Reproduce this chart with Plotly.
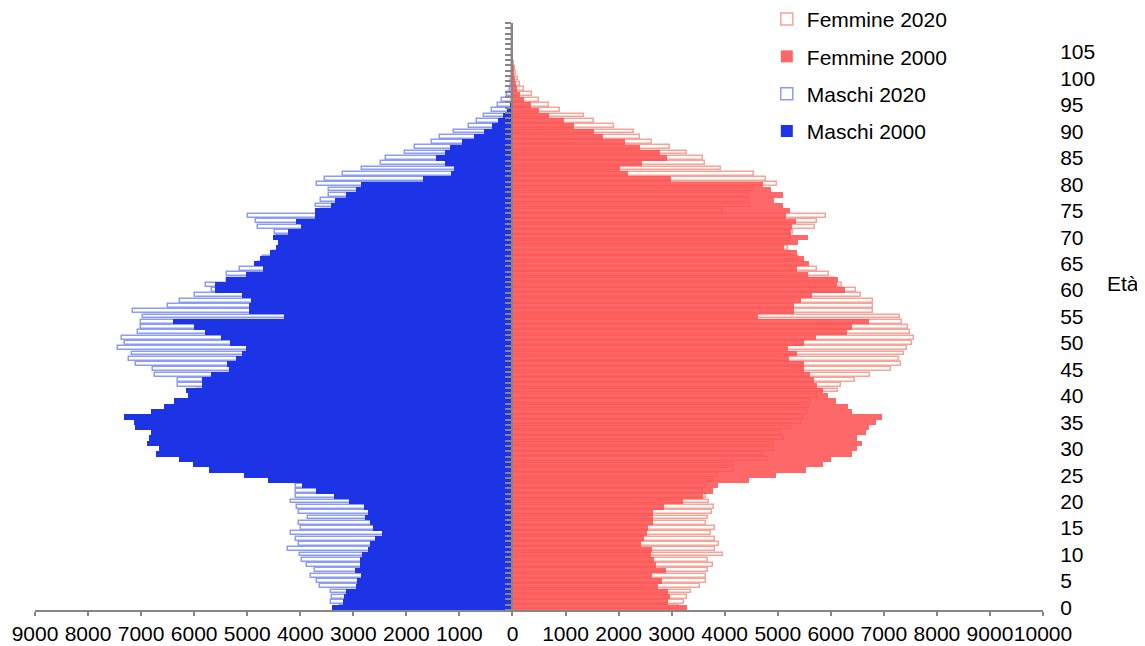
import plotly.graph_objects as go

ages = list(range(0, 111))

maschi_2000 = [
    3400, 3195, 3182, 3132, 2956, 2925, 2850, 2963, 2881, 2881,
    2837, 2724, 2693, 2599, 2461, 2630, 2693, 2787, 2724, 2800,
    3082, 3371, 3710, 3961, 4613, 5065, 5718, 6019, 6283, 6710,
    6660, 6886, 6848, 6823, 7118, 7137, 7325, 6810, 6572, 6383,
    6114, 6145, 5844, 5856, 5687, 5348, 5373, 5203, 5097, 5028,
    5329, 5498, 5800, 6001, 6408, 4312, 4965, 4965, 4921, 5097,
    5599, 5611, 5404, 5015, 4701, 4877, 4764, 4576, 4450, 4420,
    4513, 4230, 3979, 4074, 3728, 3728, 3415, 3339, 3145, 2944,
    2850, 1688, 1155, 1105, 1268, 1437, 1280, 1186, 954, 728,
    546, 383, 276, 182, 107, 56, 35, 20, 10, 6,
    3, 2, 1, 1, 0, 0, 0, 0, 0, 0, 0,
]

maschi_2020 = [
    3250, 3415, 3402, 3415, 3622, 3684, 3804, 3716, 3866, 3967,
    4011, 4224, 4023, 4074, 4168, 3992, 4023, 3854, 4023, 4055,
    4168, 4074, 4074, 4074, 3950, 4000, 4200, 4250, 4800, 4750,
    4950, 4950, 5100, 5050, 5250, 5400, 5450, 5500, 5550, 5600,
    5700, 5950, 6314, 6302, 6741, 6785, 7105, 7231, 7181, 7431,
    7306, 7356, 7068, 7005, 7005, 6961, 7149, 6490, 6270, 5988,
    5655, 5781, 5380, 5373, 5141, 4800, 4700, 4520, 4400, 4350,
    4450, 4482, 4795, 4839, 4984, 3600, 3697, 3603, 3458, 3458,
    3684, 3540, 3195, 2837, 2486, 2379, 2034, 1845, 1513, 1362,
    1111, 822, 665, 546, 383, 264, 195, 107, 56, 35,
    20, 12, 7, 4, 2, 1, 0, 0, 0, 0, 0,
]

femmine_2000 = [
    3289, 2937, 2969, 2937, 2737, 2812, 2624, 2894, 2705, 2674,
    2611, 2630, 2423, 2486, 2530, 2548, 2655, 2655, 2655, 2850,
    3220, 3597, 3785, 3866, 4463, 4965, 5530, 5844, 6001, 6408,
    6503, 6597, 6503, 6660, 6722, 6848, 6973, 6408, 6333, 6095,
    5950, 5862, 5749, 5687, 5611, 5486, 5486, 5216, 5354, 5197,
    5486, 5718, 6314, 6408, 6722, 4632, 5298, 5298, 5436, 5655,
    6264, 6126, 6145, 5561, 5354, 5593, 5486, 5360, 5110, 5385,
    5561, 5241, 5260, 5341, 5153, 5235, 5090, 4933, 5090, 4871,
    4714, 2988, 2172, 2027, 2435, 2912, 2781, 2410, 2122, 1714,
    1544, 1167, 979, 697, 508, 351, 226, 151, 88, 69,
    40, 25, 15, 8, 5, 3, 2, 1, 0, 0, 0,
]

femmine_2020 = [
    3145, 3239, 3289, 3364, 3540, 3647, 3647, 3691, 3772, 3678,
    3961, 3816, 3885, 3816, 3741, 3816, 3647, 3678, 3754, 3804,
    3710, 3647, 3600, 3650, 3800, 3866, 4180, 4149, 4808, 4714,
    4933, 4933, 5122, 5059, 5247, 5436, 5498, 5561, 5593, 5624,
    5737, 6145, 6201, 6452, 6741, 7130, 7319, 7290, 7380, 7440,
    7540, 7560, 7500, 7450, 7350, 7306, 6804, 6804, 6804, 6565,
    6471, 6220, 6063, 5969, 5749, 5498, 5400, 5250, 5184, 5216,
    5247, 5279, 5699, 5737, 5906, 3961, 4494, 4475, 4463, 4526,
    4984, 4777, 4544, 3929, 3634, 3597, 3289, 2969, 2630, 2410,
    2285, 1921, 1544, 1356, 904, 697, 508, 364, 226, 150,
    100, 70, 45, 30, 18, 10, 6, 3, 2, 1, 0,
]

x_ticks = list(range(-9000, 10001, 1000))
x_ticktext = [str(abs(v)) for v in x_ticks]
y_ticks = list(range(0, 106, 5))

BLUE = "rgb(28,51,230)"
BLUE_LIGHT = "rgb(140,155,245)"
RED = "rgb(255,80,80)"
RED_LIGHT = "rgb(246,163,152)"
GRAY = "rgb(134,134,134)"
FONT = "Liberation Sans, Arial, sans-serif"

fig = go.Figure()

fig.add_trace(go.Bar(
    name="Maschi 2020", y=ages, x=[-v for v in maschi_2020], orientation="h",
    width=0.72, marker=dict(color="white", line=dict(color=BLUE_LIGHT, width=1.5)),
    legendgroup="m20", legendrank=3, hoverinfo="skip",
))
fig.add_trace(go.Bar(
    name="Femmine 2020", y=ages, x=femmine_2020, orientation="h",
    width=0.72, marker=dict(color="white", line=dict(color=RED_LIGHT, width=1.5)),
    legendgroup="f20", legendrank=1, hoverinfo="skip",
))
fig.add_trace(go.Bar(
    name="Maschi 2000", y=ages, x=[-v for v in maschi_2000], orientation="h",
    width=1.0, marker=dict(color=BLUE, line=dict(width=0)),
    legendgroup="m00", legendrank=4, hoverinfo="skip",
))
fig.add_trace(go.Bar(
    name="Femmine 2000", y=ages, x=femmine_2000, orientation="h",
    width=1.0, marker=dict(color=RED, line=dict(width=0)), opacity=0.86,
    legendgroup="f00", legendrank=2, hoverinfo="skip",
))
# invisible trace to activate the central age axis
fig.add_trace(go.Scatter(
    x=[0], y=[0], yaxis="y2", mode="markers", marker=dict(opacity=0),
    showlegend=False, hoverinfo="skip",
))

fig.update_layout(
    width=1137, height=638,
    margin=dict(l=27, r=102, t=15, b=36, autoexpand=False),
    paper_bgcolor="white", plot_bgcolor="white",
    barmode="overlay", bargap=0,
    font=dict(family=FONT, size=21, color="black"),
    showlegend=True,
    legend=dict(
        x=0.726, y=1.041, xanchor="left", yanchor="top",
        bgcolor="rgba(0,0,0,0)", tracegroupgap=7,
        font=dict(family=FONT, size=21, color="black"),
    ),
    xaxis=dict(
        range=[-9000, 10000], tickmode="array", tickvals=x_ticks, ticktext=x_ticktext,
        tickangle=0,
        ticks="outside", ticklen=4, tickwidth=2, tickcolor=GRAY,
        showline=True, linecolor=GRAY, linewidth=2,
        showgrid=False, zeroline=False, automargin=False,
        tickfont=dict(family=FONT, size=21, color="black"),
    ),
    yaxis=dict(
        range=[-0.5, 110.5], side="right", tickmode="array", tickvals=y_ticks,
        ticks="outside", ticklen=12, tickcolor="rgba(0,0,0,0)",
        showline=False, showgrid=False, zeroline=False, automargin=False,
        tickfont=dict(family=FONT, size=21, color="black"),
    ),
    yaxis2=dict(
        range=[-0.5, 110.5], overlaying="y", anchor="free", position=9 / 19, side="left",
        tickmode="linear", tick0=-0.5, dtick=1,
        ticks="outside", ticklen=6, tickwidth=2, tickcolor=GRAY,
        showline=True, linecolor=GRAY, linewidth=2, automargin=False,
        showticklabels=False, showgrid=False, zeroline=False,
    ),
    annotations=[dict(
        text="Età", xref="paper", yref="y", x=1.0975, y=61.3,
        xanchor="right", yanchor="middle", showarrow=False,
        font=dict(family=FONT, size=21, color="black"),
    )],
)

fig.write_html("out.html")
